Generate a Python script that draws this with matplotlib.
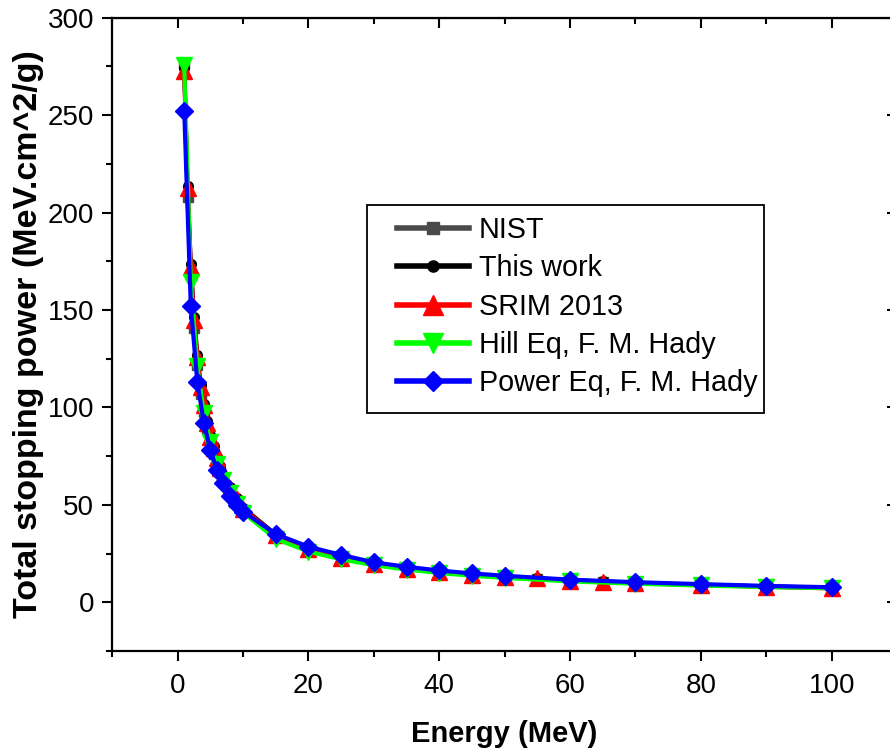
import matplotlib
matplotlib.use('Agg')
import matplotlib.pyplot as plt
from matplotlib.patches import Rectangle
from matplotlib.ticker import MultipleLocator

plt.rcParams['font.family'] = ['Liberation Sans', 'DejaVu Sans']

# Energies (MeV)
energy_fine = [1, 1.5, 2, 2.5, 3, 3.5, 4, 4.5, 5, 5.5, 6, 6.5, 7, 8, 9, 10,
               15, 20, 25, 30, 35, 40, 45, 50, 55, 60, 65, 70, 80, 90, 100]
energy_fit = [1, 2, 3, 4, 5, 6, 7, 8, 9, 10, 15, 20, 25, 30, 35, 40, 45, 50,
              60, 70, 80, 90, 100]

# Total stopping power (MeV.cm^2/g)
nist = [277, 208, 168, 141, 122, 107, 97.5, 89, 82, 76, 71.5, 67, 63, 57, 52,
        47.5, 34, 27, 22.5, 19.5, 17.2, 15.4, 14.0, 12.9, 12.0, 11.2, 10.5,
        9.9, 8.9, 8.1, 7.4]
this_work = [274, 213.5, 173.5, 146.5, 127, 111.5, 102, 93, 86, 80, 74.5,
             70, 65.5, 59, 53.5, 48.5, 34.8, 27.6, 23.0, 19.8, 17.5, 15.7,
             14.2, 13.1, 12.2, 11.3, 10.7, 10.0, 9.0, 8.1, 7.4]
srim = [272.5, 212.5, 172, 145, 126, 110.6, 101, 92, 85, 79, 74, 69, 65,
        58.5, 53, 48, 34.3, 27.2, 22.6, 19.5, 17.2, 15.4, 14.0, 12.8, 12.2,
        11.1, 10.6, 9.8, 8.8, 7.9, 7.1]
hill = [275.5, 164.5, 121, 97, 82, 71, 62.5, 56, 50.5, 46, 32.5, 26, 22,
        19, 16.8, 15.0, 13.6, 12.5, 10.7, 9.5, 8.6, 7.8, 7.2]
power = [252, 152, 113, 92, 78, 68, 61, 54.5, 50, 46.5, 35, 28.5, 24.3,
         20.5, 18.2, 16.3, 14.8, 13.6, 11.6, 10.3, 9.3, 8.4, 7.7]

fig = plt.figure(figsize=(8.9, 7.51), dpi=100)
ax = fig.add_axes([0.1262, 0.1332, 0.8817, 0.8432])

lw = 3
ax.plot(energy_fine, nist, color='#4a4a4a', lw=lw, marker='s', ms=7,
        label='NIST')
ax.plot(energy_fine, this_work, color='black', lw=lw, marker='o', ms=7,
        label='This work')
ax.plot(energy_fine, srim, color='#ff0000', lw=lw, marker='^', ms=12,
        label='SRIM 2013')
ax.plot(energy_fit, hill, color='#00ff00', lw=lw, marker='v', ms=12,
        label='Hill Eq, F. M. Hady')
ax.plot(energy_fit, power, color='#0000ff', lw=lw, marker='D', ms=9,
        label='Power Eq, F. M. Hady')

ax.set_xlim(-10, 110)
ax.set_ylim(-25, 300)

ax.xaxis.set_major_locator(MultipleLocator(20))
ax.xaxis.set_minor_locator(MultipleLocator(10))
ax.yaxis.set_major_locator(MultipleLocator(50))
ax.yaxis.set_minor_locator(MultipleLocator(25))

for s in ax.spines.values():
    s.set_linewidth(1.6)

ax.tick_params(which='major', direction='out', length=7, width=1.5,
               labelsize=20, pad=6)
ax.tick_params(which='minor', direction='out', length=4, width=1.5)
ax.tick_params(axis='x', pad=9)

# inward ticks on the top and right sides
top = ax.secondary_xaxis('top')
top.xaxis.set_major_locator(MultipleLocator(20))
top.xaxis.set_minor_locator(MultipleLocator(10))
top.tick_params(which='major', direction='in', length=7, width=1.5,
                labeltop=False)
top.tick_params(which='minor', direction='in', length=4, width=1.5)
right = ax.secondary_yaxis('right')
right.yaxis.set_major_locator(MultipleLocator(50))
right.yaxis.set_minor_locator(MultipleLocator(25))
right.tick_params(which='major', direction='in', length=7, width=1.5,
                  labelright=False)
right.tick_params(which='minor', direction='in', length=4, width=1.5)

ax.set_xlabel('Energy (MeV)', fontsize=21, fontweight='bold', labelpad=15)
ax.set_ylabel('Total stopping power (MeV.cm^2/g)', fontsize=24.5,
              fontweight='bold', labelpad=3)

# legend box, drawn separately to get Origin-like padding
ax.add_patch(Rectangle((0.3246, 0.3758), 0.5059, 0.3284,
                       transform=ax.transAxes, fill=False, lw=1.3,
                       edgecolor='black', zorder=5))
leg = ax.legend(loc='upper left', bbox_to_anchor=(0.3628, 0.687),
                fontsize=20.7, frameon=False, handlelength=2.5,
                labelspacing=0.36, borderpad=0, handletextpad=0.35,
                borderaxespad=0, markerscale=1.15)
for h in leg.legend_handles:
    h.set_linewidth(4)

fig.savefig('out.png', dpi=100)
